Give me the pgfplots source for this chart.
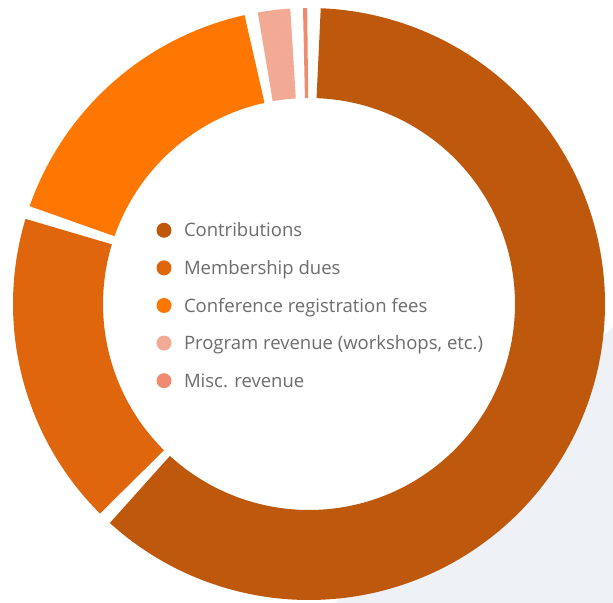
\documentclass[border=0pt]{standalone}
\usepackage{fontspec}
\setmainfont{Open Sans}
\usepackage{pgfplots}
\usepackage{pgfplotstable}
\pgfplotsset{compat=1.18}
\definecolor{cContrib}{RGB}{190,88,12}
\definecolor{cMember}{RGB}{224,102,14}
\definecolor{cConf}{RGB}{253,119,2}
\definecolor{cProg}{RGB}{242,170,149}
\definecolor{cMisc}{RGB}{240,139,111}
\definecolor{bggray}{RGB}{238,242,246}
\definecolor{legtext}{RGB}{108,108,108}
% revenue shares (percent), clockwise from the top
\pgfplotstableread{
share
61.85
17.89
16.86
2.47
0.93
}\revenue
\pgfmathsetmacro\aS{0.95}
\pgfplotstablegetelem{0}{share}\of\revenue
\pgfmathsetmacro\aA{\aS+3.6*\pgfplotsretval}
\pgfplotstablegetelem{1}{share}\of\revenue
\pgfmathsetmacro\aB{\aA+3.6*\pgfplotsretval}
\pgfplotstablegetelem{2}{share}\of\revenue
\pgfmathsetmacro\aC{\aB+3.6*\pgfplotsretval}
\pgfplotstablegetelem{3}{share}\of\revenue
\pgfmathsetmacro\aD{\aC+3.6*\pgfplotsretval}
\pgfplotstablegetelem{4}{share}\of\revenue
\pgfmathsetmacro\aE{\aD+3.6*\pgfplotsretval}
\pgfmathsetmacro\pad{1.25}
\pgfmathsetmacro\sA{\aS+\pad}\pgfmathsetmacro\eA{\aA-\pad}
\pgfmathsetmacro\sB{\aA+\pad}\pgfmathsetmacro\eB{\aB-\pad}
\pgfmathsetmacro\sC{\aB+\pad}\pgfmathsetmacro\eC{\aC-\pad}
\pgfmathsetmacro\sD{\aC+\pad}\pgfmathsetmacro\eD{\aD-\pad}
\pgfmathsetmacro\sE{\aD+\pad}\pgfmathsetmacro\eE{\aE-\pad}
\begin{document}
\begin{tikzpicture}
\begin{axis}[
  x=1bp, y=1bp,
  xmin=-309, xmax=304, ymin=-299, ymax=304,
  clip=true, axis line style={draw=none}, ticks=none,
  legend image code/.code={\fill[#1, line width=0pt, draw=none] (0bp,0bp) circle (7.5bp);},
  legend cell align=left,
  legend style={draw=none, fill=none, inner sep=0pt, outer sep=0pt,
    at={(axis cs:-152.5,83.1)}, anchor=north west,
    row sep=18.8bp, column sep=12.5bp,
    nodes={inner sep=0pt, text height=16bp, text depth=2.8bp, text=legtext,
      font=\fontsize{18.5bp}{22bp}\selectfont}},
]
\addplot[draw=none, forget plot] coordinates {(-309,-299) (304,304)};
\addplot[fill=bggray, draw=none, forget plot] coordinates {(304,-23) (304,-299) (26,-299)};
\addplot[color=cContrib, line width=90bp, domain=\sA:\eA, samples=220, variable=\t] ({251*sin(\t)},{251*cos(\t)});
\addlegendentry{Contributions}
\addplot[color=cMember, line width=90bp, domain=\sB:\eB, samples=80, variable=\t] ({251*sin(\t)},{251*cos(\t)});
\addlegendentry{Membership dues}
\addplot[color=cConf, line width=90bp, domain=\sC:\eC, samples=80, variable=\t] ({251*sin(\t)},{251*cos(\t)});
\addlegendentry{Conference registration fees}
\addplot[color=cProg, line width=90bp, domain=\sD:\eD, samples=20, variable=\t] ({251*sin(\t)},{251*cos(\t)});
\addlegendentry{Program revenue (workshops, etc.)}
\addplot[color=cMisc, line width=90bp, domain=\sE:\eE, samples=5, variable=\t] ({251*sin(\t)},{251*cos(\t)});
\addlegendentry{Misc. revenue}
\end{axis}
\end{tikzpicture}
\end{document}
